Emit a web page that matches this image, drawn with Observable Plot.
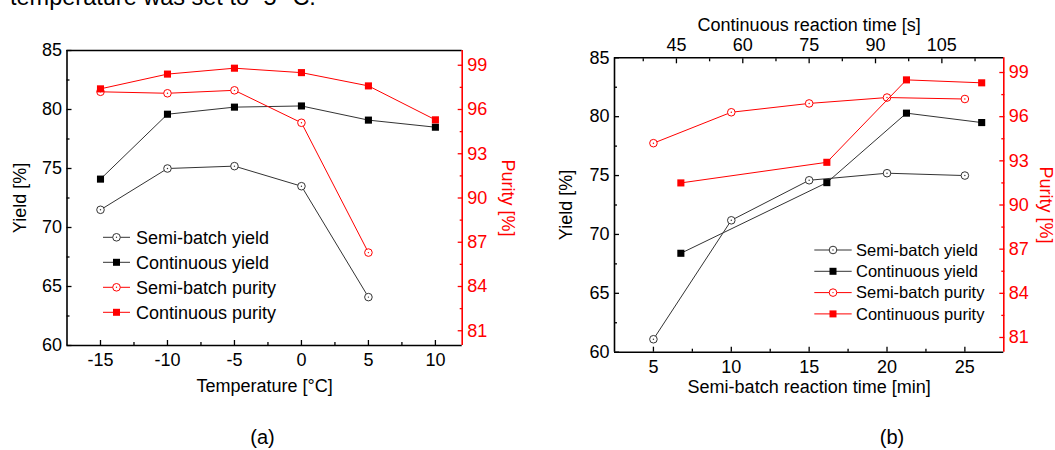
<!DOCTYPE html>
<html>
<head>
<meta charset="utf-8">
<script src="https://cdn.jsdelivr.net/npm/d3@7"></script>
<script src="https://cdn.jsdelivr.net/npm/@observablehq/plot@0.6"></script>
<style>
html,body{margin:0;padding:0;background:#fff;}
#wrap{position:relative;width:1055px;height:450px;overflow:hidden;font-family:"Liberation Sans",Arial,Helvetica,sans-serif;}
#wrap svg{position:absolute;left:0;top:0;}
</style>
</head>
<body>
<div id="wrap"></div>
<script>
// ---------- data ----------
const seriesNames = ["Semi-batch yield", "Continuous yield", "Semi-batch purity", "Continuous purity"];

// panel (a): temperature study
const tempSemi = [-15, -10, -5, 0, 5];
const semiYieldA = [71.5, 75.0, 75.2, 73.5, 64.1];
const semiPurityA = [97.2, 97.1, 97.3, 95.1, 86.3];
const tempCont = [-15, -10, -5, 0, 5, 10];
const contYieldA = [74.1, 79.6, 80.2, 80.3, 79.1, 78.5];
const contPurityA = [97.4, 98.4, 98.8, 98.5, 97.6, 95.3];

// panel (b): reaction time study
const semiTimeMin = [5, 10, 15, 20, 25];
const semiYieldB = [61.1, 71.2, 74.6, 75.2, 75.0];
const semiPurityB = [94.2, 96.3, 96.9, 97.3, 97.2];
const contTimeSec = [46, 79, 97, 114];
const contYieldB = [68.4, 74.4, 80.3, 79.5];
const contPurityB = [91.5, 92.9, 98.5, 98.3];

// tick labels
const yieldTicks = [60, 65, 70, 75, 80, 85];
const yieldMinor = [62.5, 67.5, 72.5, 77.5, 82.5];
const purityTicks = [81, 84, 87, 90, 93, 96, 99];
const purityMinor = [82.5, 85.5, 88.5, 91.5, 94.5, 97.5];
const tempTicks = [-15, -10, -5, 0, 5, 10];
const tempMinor = [-12.5, -7.5, -2.5, 2.5, 7.5];
const minTicks = [5, 10, 15, 20, 25];
const minMinor = [7.5, 12.5, 17.5, 22.5];
const secTicks = [45, 60, 75, 90, 105];
const secMinor = [37.5, 52.5, 67.5, 82.5, 97.5, 112.5];

// ---------- layout ----------
const W = 1055, H = 450;
const FONT = '"Liberation Sans", Arial, Helvetica, sans-serif';
const RED = "#ff0000", DARK = "#333333", BLACK = "#000000";
const mA = {marginLeft: 66.5, marginRight: W - 461.7, marginTop: 50, marginBottom: H - 345};
const mB = {marginLeft: 614, marginRight: W - 1003.3, marginTop: 57.3, marginBottom: H - 351.7};
const wrap = document.getElementById("wrap");
const fmt = d => String(d);
const none = () => "";
const lbl = {fontSize: 18, textAnchor: "middle", lineAnchor: "middle"};

function layer(o) {
  const svg = Plot.plot({
    width: W, height: H,
    style: {background: "transparent", fontFamily: FONT, fontSize: "18px", color: "black", overflow: "visible"},
    ...o
  });
  wrap.appendChild(svg);
}

function circleSeries(xs, ys, color) {
  const d = xs.map((x, i) => ({x, y: ys[i]}));
  return [
    Plot.line(d, {x: "x", y: "y", stroke: color, strokeWidth: 1}),
    Plot.dot(d, {x: "x", y: "y", r: 3.8, stroke: color, fill: "white", strokeWidth: 1}),
    Plot.dot(d, {x: "x", y: "y", r: 0.7, fill: color})
  ];
}
function squareSeries(xs, ys, lineColor, fillColor) {
  const d = xs.map((x, i) => ({x, y: ys[i]}));
  return [
    Plot.line(d, {x: "x", y: "y", stroke: lineColor, strokeWidth: 1}),
    Plot.dot(d, {x: "x", y: "y", symbol: "square", r: 4, fill: fillColor})
  ];
}
// axes: labels without ticks, plus inward ticks (shifted by their own length)
const yAxis = (anchor, ticks, minor, color) => {
  const s = anchor === "left" ? 1 : -1;
  return [
    Plot.axisY(ticks, {anchor, tickSize: 0, tickPadding: 5, tickFormat: fmt, color, label: null}),
    Plot.axisY(ticks, {anchor, tickSize: 5, dx: 5 * s, tickFormat: none, stroke: color, strokeWidth: 1.3, label: null}),
    Plot.axisY(minor, {anchor, tickSize: 3, dx: 3 * s, tickFormat: none, stroke: color, strokeWidth: 1.3, label: null})
  ];
};
const xAxis = (anchor, ticks, minor, color) => {
  const s = anchor === "bottom" ? -1 : 1;
  return [
    Plot.axisX(ticks, {anchor, tickSize: 0, tickPadding: anchor === "bottom" ? 8 : 7, tickFormat: fmt, color, label: null}),
    Plot.axisX(ticks, {anchor, tickSize: 5, dy: 5 * s, tickFormat: none, stroke: color, strokeWidth: 1.3, label: null}),
    Plot.axisX(minor, {anchor, tickSize: 3, dy: 3 * s, tickFormat: none, stroke: color, strokeWidth: 1.3, label: null})
  ];
};

const tempDomain = [-17.5, 12], minDomain = [2.5, 27.5], secDomain = [31, 119];
const yieldDomain = [60, 85], purityDomain = [80, 100];

// ---------- panel (a) ----------
layer({
  ...mA,
  x: {domain: tempDomain, axis: null},
  y: {domain: yieldDomain, axis: null},
  marks: [
    ...yAxis("left", yieldTicks, yieldMinor, BLACK),
    ...xAxis("bottom", tempTicks, tempMinor, BLACK),
    Plot.ruleX([tempDomain[0]], {stroke: BLACK, strokeWidth: 1.6}),
    Plot.ruleY([yieldDomain[0]], {stroke: BLACK, strokeWidth: 1.6}),
    Plot.ruleY([yieldDomain[1]], {stroke: BLACK, strokeWidth: 1.6}),
    Plot.text(["Yield [%]"], {...lbl, frameAnchor: "left", rotate: -90, dx: -47, fill: BLACK}),
    Plot.text(["Temperature [°C]"], {...lbl, frameAnchor: "bottom", dy: 41, fill: BLACK}),
    ...circleSeries(tempSemi, semiYieldA, DARK),
    ...squareSeries(tempCont, contYieldA, DARK, BLACK)
  ]
});
layer({
  ...mA,
  x: {domain: tempDomain, axis: null},
  y: {domain: purityDomain, axis: null},
  marks: [
    ...yAxis("right", purityTicks, purityMinor, RED),
    Plot.ruleX([tempDomain[1]], {stroke: RED, strokeWidth: 1.6}),
    Plot.text(["Purity [%]"], {...lbl, frameAnchor: "right", rotate: 90, dx: 46, fill: RED}),
    ...circleSeries(tempSemi, semiPurityA, RED),
    ...squareSeries(tempCont, contPurityA, RED, RED)
  ]
});

// ---------- panel (b) ----------
layer({
  ...mB,
  x: {domain: minDomain, axis: null},
  y: {domain: yieldDomain, axis: null},
  marks: [
    ...yAxis("left", yieldTicks, yieldMinor, BLACK),
    ...xAxis("bottom", minTicks, minMinor, BLACK),
    Plot.ruleX([minDomain[0]], {stroke: BLACK, strokeWidth: 1.6}),
    Plot.ruleY([yieldDomain[0]], {stroke: BLACK, strokeWidth: 1.6}),
    Plot.text(["Yield [%]"], {...lbl, frameAnchor: "left", rotate: -90, dx: -48, fill: BLACK}),
    Plot.text(["Semi-batch reaction time [min]"], {...lbl, frameAnchor: "bottom", dy: 35, fill: BLACK}),
    ...circleSeries(semiTimeMin, semiYieldB, DARK)
  ]
});
layer({
  ...mB,
  x: {domain: secDomain, axis: null},
  y: {domain: yieldDomain, axis: null},
  marks: [
    ...xAxis("top", secTicks, secMinor, BLACK),
    Plot.ruleY([yieldDomain[1]], {stroke: BLACK, strokeWidth: 1.6}),
    Plot.text(["Continuous reaction time [s]"], {...lbl, frameAnchor: "top", dy: -33, fill: BLACK}),
    ...squareSeries(contTimeSec, contYieldB, DARK, BLACK)
  ]
});
layer({
  ...mB,
  x: {domain: minDomain, axis: null},
  y: {domain: purityDomain, axis: null},
  marks: [
    ...yAxis("right", purityTicks, purityMinor, RED),
    Plot.ruleX([minDomain[1]], {stroke: RED, strokeWidth: 1.6}),
    Plot.text(["Purity [%]"], {...lbl, frameAnchor: "right", rotate: 90, dx: 42, fill: RED}),
    ...circleSeries(semiTimeMin, semiPurityB, RED)
  ]
});
layer({
  ...mB,
  x: {domain: secDomain, axis: null},
  y: {domain: purityDomain, axis: null},
  marks: [
    ...squareSeries(contTimeSec, contPurityB, RED, RED)
  ]
});

// ---------- legends, captions, leftover text ----------
const ov = d3.select(wrap).append("svg")
  .attr("width", W).attr("height", H)
  .style("font-family", FONT);

const legendStyle = [
  {sym: "circle", stroke: DARK, fill: "white"},
  {sym: "square", stroke: DARK, fill: BLACK},
  {sym: "circle", stroke: RED, fill: "white"},
  {sym: "square", stroke: RED, fill: RED}
];
function legend(x0, x1, xt, y0, step, fs) {
  const xm = (x0 + x1) / 2;
  seriesNames.forEach((name, i) => {
    const s = legendStyle[i];
    const y = y0 + i * step;
    const g = ov.append("g");
    g.append("line").attr("x1", x0).attr("x2", x1).attr("y1", y).attr("y2", y)
      .attr("stroke", s.stroke).attr("stroke-width", 1);
    if (s.sym === "circle") {
      g.append("circle").attr("cx", xm).attr("cy", y).attr("r", 3.8)
        .attr("fill", "white").attr("stroke", s.stroke);
      g.append("circle").attr("cx", xm).attr("cy", y).attr("r", 0.7).attr("fill", s.stroke);
    } else {
      g.append("rect").attr("x", xm - 3.5).attr("y", y - 3.5).attr("width", 7).attr("height", 7)
        .attr("fill", s.fill);
    }
    g.append("text").attr("x", xt).attr("y", y).attr("dy", "0.35em")
      .attr("font-size", fs).attr("fill", "black").text(name);
  });
}
legend(103, 130, 136, 237.3, 25, 18);
legend(814.3, 851.7, 856, 250, 21.3, 16.5);

ov.append("text").attr("x", 262.5).attr("y", 437).attr("dy", "0.35em")
  .attr("text-anchor", "middle").attr("font-size", 20).text("(a)");
ov.append("text").attr("x", 892).attr("y", 437).attr("dy", "0.35em")
  .attr("text-anchor", "middle").attr("font-size", 20).text("(b)");
ov.append("text").attr("x", 10).attr("y", 5)
  .attr("font-size", 23.5).text("temperature was set to -5 °C.");
</script>
</body>
</html>
